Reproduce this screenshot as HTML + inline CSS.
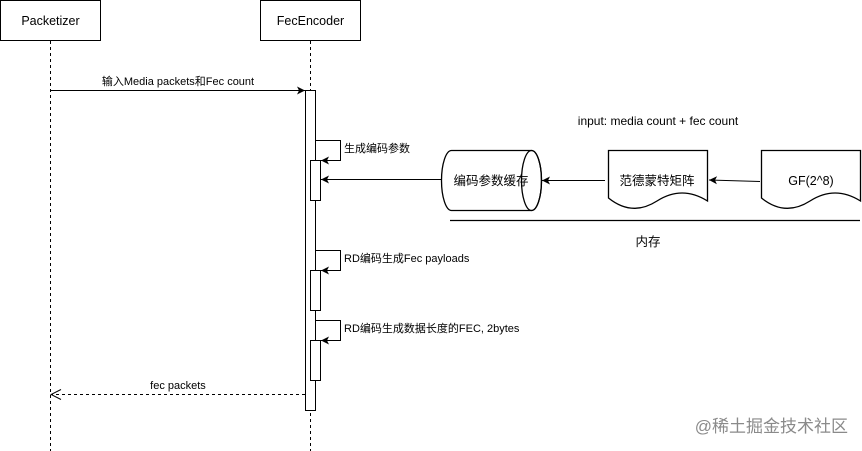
<!DOCTYPE html>
<html><head><meta charset="utf-8"><style>
html,body{margin:0;padding:0;background:#fff;}
svg{display:block;}
text{font-family:"Liberation Sans","Noto Sans CJK SC",sans-serif;font-size:11px;fill:#000;}
</style></head><body>
<svg width="862" height="451" viewBox="0 0 862 451" xmlns="http://www.w3.org/2000/svg">
<defs>
<marker id="a" markerWidth="10" markerHeight="10" refX="9" refY="5" orient="auto" markerUnits="userSpaceOnUse"><path d="M1,1 L9,5 L1,9 L3,5 Z" fill="#000"/></marker>
<marker id="o" markerWidth="12" markerHeight="12" refX="11" refY="6" orient="auto" markerUnits="userSpaceOnUse"><path d="M1,1 L11,6 L1,11" fill="none" stroke="#000"/></marker>
</defs>
<rect x="0.5" y="0.5" width="100" height="40" fill="#fff" stroke="#000"/>
<text x="50.5" y="25" text-anchor="middle" style="font-size:12.5px">Packetizer</text>
<rect x="260.5" y="0.5" width="100" height="40" fill="#fff" stroke="#000"/>
<text x="310.5" y="25" text-anchor="middle" style="font-size:12.5px">FecEncoder</text>
<line x1="50.5" y1="41" x2="50.5" y2="451" stroke="#000" stroke-dasharray="3,3"/>
<line x1="310.5" y1="41" x2="310.5" y2="451" stroke="#000" stroke-dasharray="3,3"/>
<rect x="305.5" y="90.5" width="10" height="320" fill="#fff" stroke="#000"/>
<line x1="51" y1="90.5" x2="305" y2="90.5" stroke="#000" marker-end="url(#a)"/>
<text x="178" y="85" text-anchor="middle">输入Media packets和Fec count</text>
<path d="M315.5,140.5 H340.5 V160.5 H321" fill="none" stroke="#000" marker-end="url(#a)"/>
<text x="344" y="152">生成编码参数</text>
<rect x="310.5" y="160.5" width="10" height="40" fill="#fff" stroke="#000"/>
<path d="M315.5,250.5 H340.5 V270.5 H321" fill="none" stroke="#000" marker-end="url(#a)"/>
<text x="344" y="262">RD编码生成Fec payloads</text>
<rect x="310.5" y="270.5" width="10" height="40" fill="#fff" stroke="#000"/>
<path d="M315.5,320.5 H340.5 V340.5 H321" fill="none" stroke="#000" marker-end="url(#a)"/>
<text x="344" y="332">RD编码生成数据长度的FEC, 2bytes</text>
<rect x="310.5" y="340.5" width="10" height="40" fill="#fff" stroke="#000"/>
<line x1="305" y1="394.5" x2="51" y2="394.5" stroke="#000" stroke-dasharray="3,3" marker-end="url(#o)"/>
<text x="178" y="389" text-anchor="middle">fec packets</text>
<line x1="441" y1="179.5" x2="321" y2="179.5" stroke="#000" marker-end="url(#a)"/>
<path d="M451.5,150.5 H531.5 A10,30 0 0 1 531.5,210.5 H451.5 A10,30 0 0 1 451.5,150.5 Z" fill="#fff" stroke="#000" stroke-width="1.3"/>
<ellipse cx="531.5" cy="180.5" rx="10" ry="30" fill="none" stroke="#000" stroke-width="1.3"/>
<text x="491" y="185" text-anchor="middle" style="font-size:12.5px">编码参数缓存</text>
<line x1="605" y1="180.5" x2="542" y2="180.5" stroke="#000" marker-end="url(#a)"/>
<path d="M608.5,150.5 H707.5 V201 Q682,185 657,201 T608.5,198 Z" fill="#fff" stroke="#000" stroke-width="1.3"/>
<text x="657" y="185" text-anchor="middle" style="font-size:12.5px">范德蒙特矩阵</text>
<line x1="760" y1="181.5" x2="709" y2="180" stroke="#000" marker-end="url(#a)"/>
<path d="M761.5,150.5 H860.5 V201 Q835,185 810,201 T761.5,198 Z" fill="#fff" stroke="#000" stroke-width="1.3"/>
<text x="811" y="185" text-anchor="middle" style="font-size:12.5px">GF(2^8)</text>
<line x1="450" y1="220.5" x2="860" y2="220.5" stroke="#000" stroke-width="1.2"/>
<text x="648" y="246" text-anchor="middle" style="font-size:12.5px">内存</text>
<text x="658" y="125" text-anchor="middle" style="font-size:12px">input: media count + fec count</text>
<text x="848" y="432" text-anchor="end" style="font-size:17px;fill:#8a8a8a">@稀土掘金技术社区</text>
</svg>
</body></html>
